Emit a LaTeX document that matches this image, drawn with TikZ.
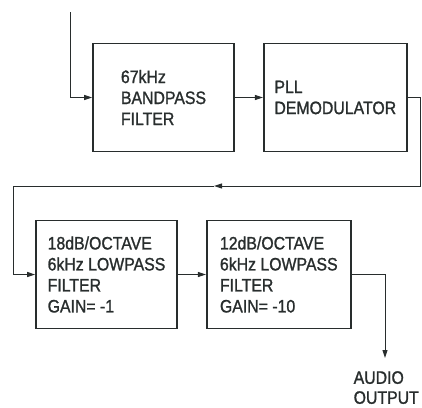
\documentclass[tikz,border=0pt]{standalone}
\usepackage{fontspec}
\newfontfamily\diagfont{Liberation Sans}[FakeStretch=0.88,FakeBold=1.2]
\usetikzlibrary{arrows.meta, positioning}
\definecolor{ink}{RGB}{40,45,45}

\begin{document}
\begin{tikzpicture}[x=1pt,y=-1pt,node distance=28pt,
  >={Triangle[length=8pt,width=5pt]},
  blk/.style={rectangle,draw=ink,line width=1.8pt,minimum height=108pt,
    align=left,text=ink,font=\diagfont\fontsize{18}{21}\selectfont},
  lbl/.style={align=left,text=ink,inner sep=0pt,font=\diagfont\fontsize{18}{20}\selectfont},
  sig/.style={draw=ink,line width=1pt}]
\useasboundingbox (0,0) rectangle (422,407);
\node[blk,minimum width=141pt] (BP) at (163.5,97.5) {67kHz\\BANDPASS\\FILTER};
\node[blk,minimum width=143pt,right=of BP] (PLL) {PLL\\DEMODULATOR};
\node[blk,minimum width=141pt] (LP1) at (106.5,274.5) {18dB/OCTAVE\\6kHz LOWPASS\\FILTER\\GAIN= -1};
\node[blk,minimum width=144pt,right=of LP1] (LP2) {12dB/OCTAVE\\6kHz LOWPASS\\FILTER\\GAIN= -10};
\node[lbl,anchor=north east] (AO) at (419,371) {AUDIO\\OUTPUT};

\coordinate (IN) at (70,12);
\coordinate (R1) at (420,186);
\coordinate (M1) at (214,186);
\coordinate (L1) at (13,186);
\coordinate (OUT) at (385,358);

\draw[sig,->] (IN) |- (BP.west);
\draw[sig,->] (BP) -- (PLL);
\draw[sig,->] (PLL.east) -| (R1) -- (M1);
\draw[sig,->] (M1) -- (L1) |- (LP1.west);
\draw[sig,->] (LP1) -- (LP2);
\draw[sig,->] (LP2.east) -| (OUT);
\end{tikzpicture}
\end{document}
